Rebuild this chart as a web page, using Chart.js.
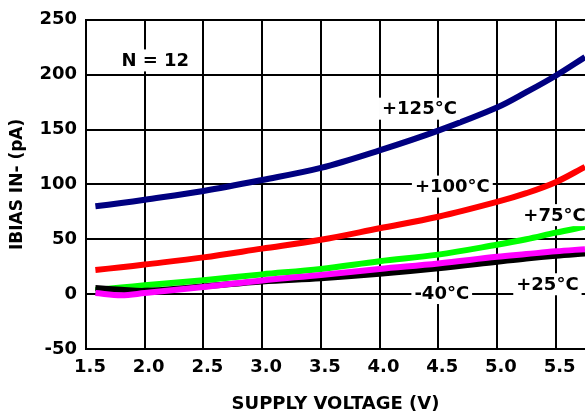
<!DOCTYPE html>
<html><head><meta charset="utf-8">
<script src="https://cdn.jsdelivr.net/npm/chart.js@4"></script>
<style>html,body{margin:0;padding:0;background:#fff}#c{display:block}</style>
</head><body>
<canvas id="c" width="585" height="415"></canvas>
<script>
const voltage = [1.58, 1.8, 2.0, 2.5, 3.0, 3.5, 4.0, 4.5, 5.0, 5.25, 5.5, 5.75];
const t125 = [80, 83, 86, 94, 104, 115, 131, 149, 170, 184, 199, 216];
const t100 = [22, 24.5, 27, 33.5, 41.5, 49.5, 60, 70.5, 84, 92, 102, 116];
const t75  = [3.6, 6, 8, 12.7, 18, 23, 30, 36, 45, 50, 56, 61.5];
const t25  = [1, -1, 1, 6.5, 12.5, 17.5, 23, 28, 34, 36.5, 39, 41];
const tm40 = [5.5, 4, 3, 7, 11.5, 14.5, 18.5, 23.5, 29.5, 32.5, 35, 37];
const xTicks = [1.5, 2.0, 2.5, 3.0, 3.5, 4.0, 4.5, 5.0, 5.5];
const yTicks = [-50, 0, 50, 100, 150, 200, 250];
const notes = [
  {text: 'N = 12', x: 2.09, y: 213},
  {text: '+125°C', x: 4.34, y: 169},
  {text: '+100°C', x: 4.62, y: 98},
  {text: '+75°C', x: 5.49, y: 72},
  {text: '+25°C', x: 5.43, y: 9},
  {text: '-40°C', x: 4.53, y: 1}
];
const FONT = 'DejaVu Sans';
const pts = arr => voltage.map((v, i) => ({x: v, y: arr[i]}));
const ds = (label, arr, color) => ({label, data: pts(arr), borderColor: color, backgroundColor: color,
  borderWidth: 6, pointRadius: 0, tension: 0.35, fill: false});

const notePlugin = {
  id: 'notes',
  afterDatasetsDraw(chart) {
    const ctx = chart.ctx, xs = chart.scales.x, ys = chart.scales.y;
    ctx.save();
    ctx.font = 'bold 18px "' + FONT + '"';
    ctx.textAlign = 'center';
    ctx.textBaseline = 'middle';
    notes.forEach(n => {
      const px = xs.getPixelForValue(n.x), py = ys.getPixelForValue(n.y);
      const w = ctx.measureText(n.text).width;
      ctx.fillStyle = '#fff';
      ctx.fillRect(px - w / 2 - 3, py - 11, w + 6, 22);
      ctx.fillStyle = '#000';
      ctx.fillText(n.text, px, py + 1);
    });
    ctx.restore();
  }
};

new Chart(document.getElementById('c'), {
  type: 'line',
  data: {datasets: [ds('+25°C', t25, '#ff00ff'), ds('-40°C', tm40, '#000000'), ds('+75°C', t75, '#00ff00'),
    ds('+100°C', t100, '#ff0000'), ds('+125°C', t125, '#000080')]},
  options: {
    responsive: false, animation: false,
    layout: {padding: {top: 17, right: 0, left: 0, bottom: 0}},
    plugins: {legend: {display: false}, tooltip: {enabled: false}},
    scales: {
      x: {type: 'linear', min: 1.5, max: 5.75,
        afterBuildTicks: s => { s.ticks = xTicks.map(v => ({value: v})); },
        afterFit: s => { s.height = 66; },
        grid: {color: '#000', lineWidth: 2, drawTicks: false},
        border: {color: '#000', width: 2},
        ticks: {color: '#000', font: {family: FONT, size: 18, weight: 'bold'}, padding: 8, labelOffset: 4,
          maxRotation: 0, autoSkip: false, callback: v => v.toFixed(1)},
        title: {display: true, text: 'SUPPLY VOLTAGE (V)', color: '#000', font: {family: FONT, size: 18, weight: 'bold'}, padding: {top: 12, bottom: 0}}
      },
      y: {type: 'linear', min: -50, max: 250,
        afterBuildTicks: s => { s.ticks = yTicks.map(v => ({value: v})); },
        afterFit: s => { s.width = 86; },
        grid: {color: '#000', lineWidth: 2, drawTicks: false},
        border: {color: '#000', width: 2},
        ticks: {color: '#000', font: {family: FONT, size: 18, weight: 'bold'}, padding: 9},
        title: {display: true, text: 'IBIAS IN- (pA)', color: '#000', font: {family: FONT, size: 17, weight: 'bold'}, padding: {top: 7, bottom: 0}}
      }
    }
  },
  plugins: [notePlugin]
});
</script>
</body></html>
